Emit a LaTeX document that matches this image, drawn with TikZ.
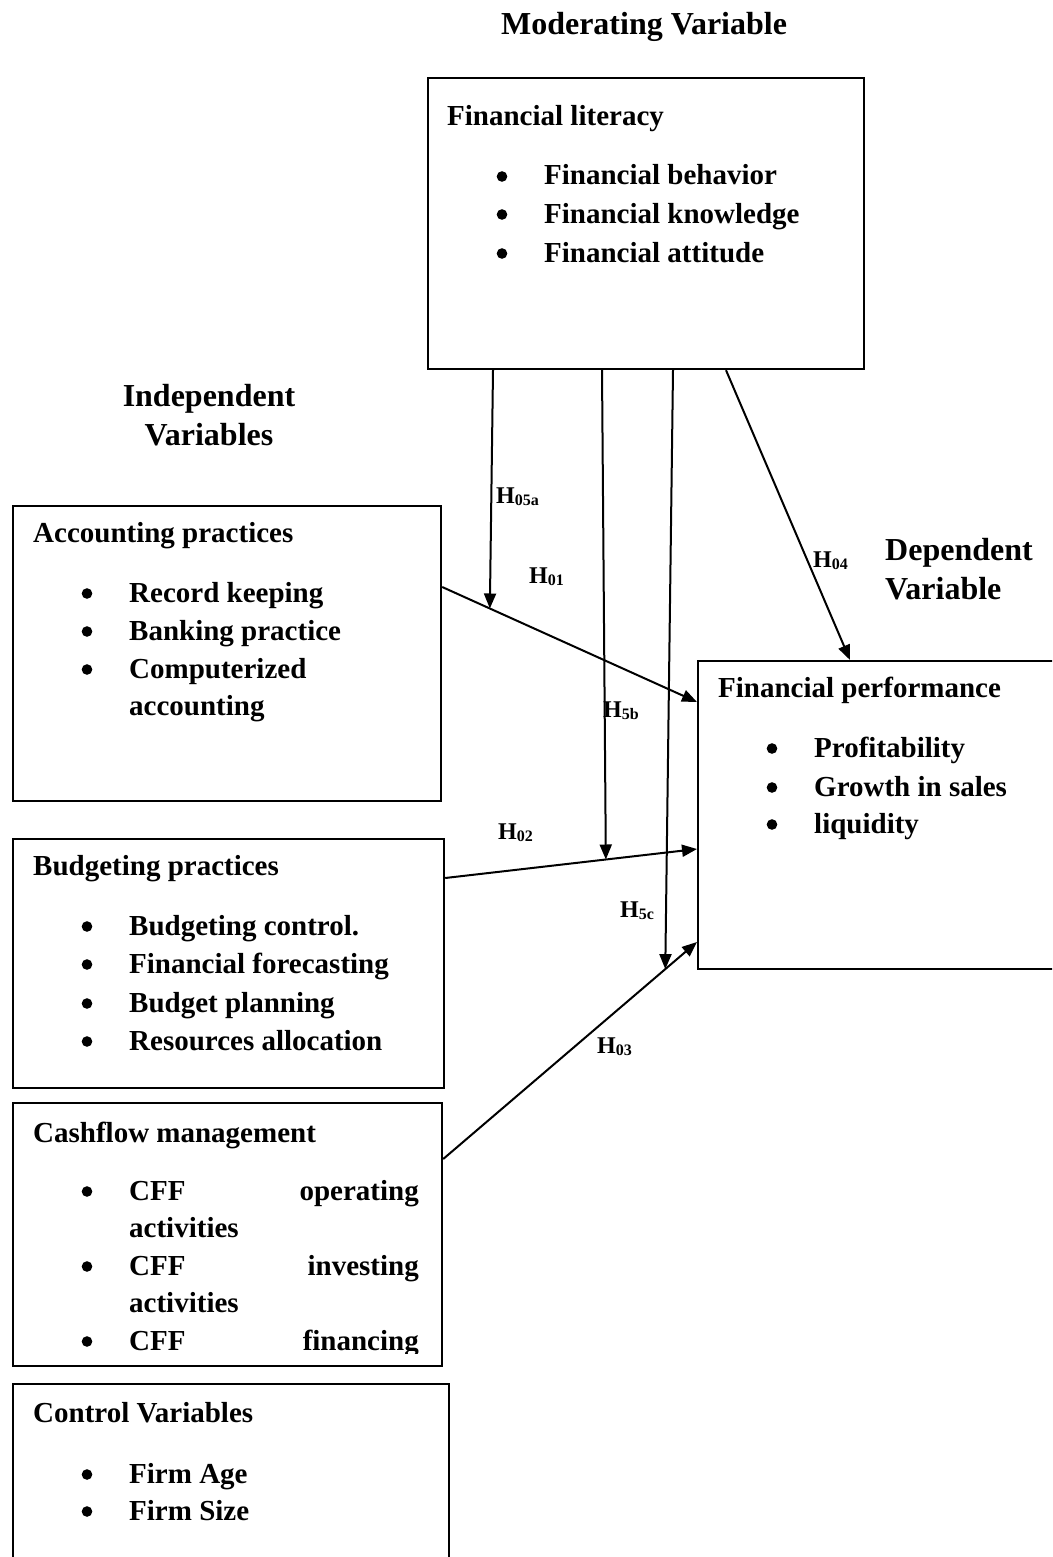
\documentclass[tikz,border=0pt]{standalone}
\usepackage{fontspec}
\setmainfont{Liberation Serif}
\usetikzlibrary{arrows.meta,calc}
\newcommand\hlab[1]{H\raisebox{-2.5pt}{\fontsize{16}{16}\selectfont #1}}
\tikzset{
  box/.style={draw, line width=2.2pt, inner sep=0pt, anchor=north west},
  txt/.style={anchor=base west, inner sep=0pt, font=\bfseries\fontsize{29}{29}\selectfont},
  txtr/.style={anchor=base east, inner sep=0pt, font=\bfseries\fontsize{29}{29}\selectfont},
  dot/.style={circle, draw=black, fill=black, line width=1pt, inner sep=0pt, minimum size=9.5pt, yshift=8.5pt},
  head/.style={anchor=base, inner sep=0pt, font=\bfseries\fontsize{32}{32}\selectfont},
  headl/.style={anchor=base west, inner sep=0pt, font=\bfseries\fontsize{32}{32}\selectfont},
  hl/.style={anchor=base west, inner sep=0pt, font=\bfseries\fontsize{24}{24}\selectfont},
  arr/.style={line width=2pt, -{Triangle[length=15pt,width=12pt]}},
}
\begin{document}
\begin{tikzpicture}[x=1pt,y=-1pt]
\path[use as bounding box, clip] (0,0) rectangle (1052,1557);
\fill[white] (0,0) rectangle (1052,1557);

% headings
\node[head] (hmod) at (644,35) {Moderating Variable};
\node[head] (hind1) at (209,406) {Independent};
\node[head] (hind2) at (209,445) {Variables};
\node[headl] (hdep1) at (885,560) {Dependent};
\node[headl] (hdep2) at (885,599) {Variable};

% boxes
\node[box, minimum width=436pt, minimum height=291pt] (fl) at (427,77) {};
\node[box, minimum width=428pt, minimum height=295pt] (acc) at (12,505) {};
\node[box, minimum width=431pt, minimum height=249pt] (bud) at (12,838) {};
\node[box, minimum width=429pt, minimum height=263pt] (cash) at (12,1102) {};
\node[box, minimum width=436pt, minimum height=200pt] (ctl) at (12,1383) {};
\node[box, minimum width=380pt, minimum height=308pt] (fp) at (697,660) {};

% Financial literacy
\node[txt] (flt) at (447,126) {Financial literacy};
\node[dot] (flb1) at (502,185) {};
\node[txt] (fl1) at (544,185) {Financial behavior};
\node[dot] (flb2) at (502,223) {};
\node[txt] (fl2) at (544,223) {Financial knowledge};
\node[dot] (flb3) at (502,262) {};
\node[txt] (fl3) at (544,262) {Financial attitude};

% Accounting practices
\node[txt] (acct) at (33,542) {Accounting practices};
\node[dot] (accb1) at (87,602) {};
\node[txt] (acc1) at (129,602) {Record keeping};
\node[dot] (accb2) at (87,640) {};
\node[txt] (acc2) at (129,640) {Banking practice};
\node[dot] (accb3) at (87,678) {};
\node[txt] (acc3) at (129,678) {Computerized};
\node[txt] (acc4) at (129,715) {accounting};

% Budgeting practices
\node[txt] (budt) at (33,875) {Budgeting practices};
\node[dot] (budb1) at (87,935) {};
\node[txt] (bud1) at (129,935) {Budgeting control.};
\node[dot] (budb2) at (87,973) {};
\node[txt] (bud2) at (129,973) {Financial forecasting};
\node[dot] (budb3) at (87,1012) {};
\node[txt] (bud3) at (129,1012) {Budget planning};
\node[dot] (budb4) at (87,1050) {};
\node[txt] (bud4) at (129,1050) {Resources allocation};

% Cashflow management
\node[txt] (casht) at (33,1142) {Cashflow management};
\node[dot] (cashb1) at (87,1200) {};
\node[txt] (cash1a) at (129,1200) {CFF};
\node[txtr] (cash1b) at (419,1200) {operating};
\node[txt] (cash1c) at (129,1237) {activities};
\node[dot] (cashb2) at (87,1275) {};
\node[txt] (cash2a) at (129,1275) {CFF};
\node[txtr] (cash2b) at (419,1275) {investing};
\node[txt] (cash2c) at (129,1312) {activities};
\node[dot] (cashb3) at (87,1350) {};
\begin{scope}
\clip (0,0) rectangle (1052,1353);
\node[txt] (cash3a) at (129,1350) {CFF};
\node[txtr] (cash3b) at (419,1350) {financing};
\end{scope}

% Control variables
\node[txt] (ctlt) at (33,1422) {Control Variables};
\node[dot] (ctlb1) at (87,1483) {};
\node[txt] (ctl1) at (129,1483) {Firm Age};
\node[dot] (ctlb2) at (87,1520) {};
\node[txt] (ctl2) at (129,1520) {Firm Size};

% Financial performance
\node[txt] (fpt) at (718,697) {Financial performance};
\node[dot] (fpb1) at (772,757) {};
\node[txt] (fp1) at (814,757) {Profitability};
\node[dot] (fpb2) at (772,796) {};
\node[txt] (fp2) at (814,796) {Growth in sales};
\node[dot] (fpb3) at (772,833) {};
\node[txt] (fp3) at (814,833) {liquidity};

% connector end points
\coordinate (a1) at ([yshift=-82pt]acc.north east);
\coordinate (b1) at ([yshift=-42pt]fp.north west);
\coordinate (a2) at ([yshift=-40pt]bud.north east);
\coordinate (b2) at ([yshift=-189pt]fp.north west);
\coordinate (a3) at ([yshift=-57pt]cash.north east);
\coordinate (b3) at ([yshift=-282pt]fp.north west);
\coordinate (m1) at ($(a1)!0.187!(b1)$);
\coordinate (m2) at ($(a2)!0.638!(b2)$);
\coordinate (m3) at ($(a3)!0.875!(b3)$);

% direct paths
\draw[arr] (a1) -- (b1);
\draw[arr] (a2) -- (b2);
\draw[arr] (a3) -- (b3);
\draw[arr] ([xshift=299pt]fl.south west) -- ([xshift=153pt]fp.north west);

% moderation paths
\draw[arr] ([xshift=66pt]fl.south west) -- (m1);
\draw[arr] ([xshift=175pt]fl.south west) -- (m2);
\draw[arr] ([xshift=246pt]fl.south west) -- (m3);

% labels
\node[hl] (l05a) at (496,503) {\hlab{05a}};
\node[hl] (l01) at (529,583) {\hlab{01}};
\node[hl] (l04) at (813,567) {\hlab{04}};
\node[hl] (l5b) at (603,717) {\hlab{5b}};
\node[hl] (l02) at (498,839) {\hlab{02}};
\node[hl] (l5c) at (620,917) {\hlab{5c}};
\node[hl] (l03) at (597,1053) {\hlab{03}};
\end{tikzpicture}
\end{document}
